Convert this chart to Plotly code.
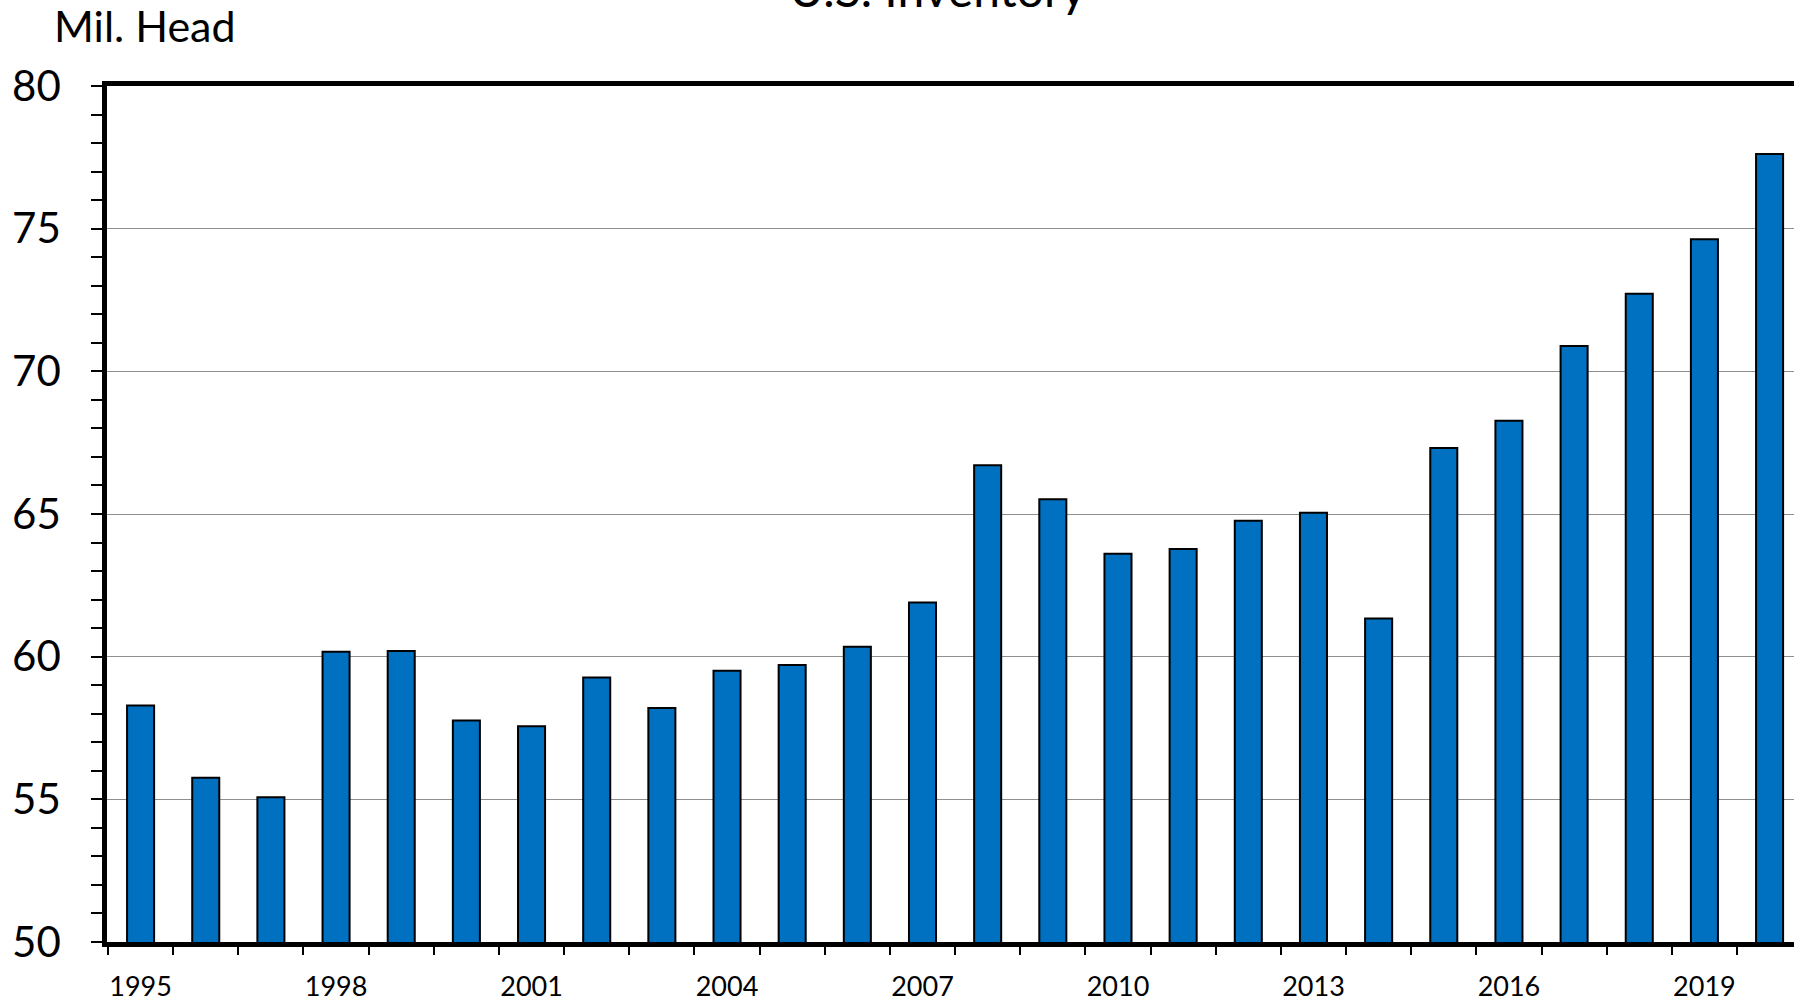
import plotly.graph_objects as go

years = list(range(1995, 2021))
inventory = [58.29, 55.76, 55.07, 60.17, 60.20, 57.76, 57.56, 59.27, 58.20, 59.51,
             59.71, 60.35, 61.90, 66.71, 65.52, 63.61, 63.77, 64.76, 65.04, 61.34,
             67.31, 68.27, 70.89, 72.72, 74.63, 77.62]
tick_years = [1995, 1998, 2001, 2004, 2007, 2010, 2013, 2016, 2019]
title_text = "U.S. Inventory"
unit_text = "Mil. Head"

W, H = 1794, 1002
L, T, B, R = 107, 86, 54, 0
CAT_PX = 65.16
PW = W - L - R
PH = H - T - B

fig = go.Figure()
fig.add_trace(go.Bar(
    x=years, y=inventory,
    marker=dict(color="#0070C0", line=dict(color="black", width=2)),
    width=0.415,
))

FONT = "Lato"
fig.update_layout(
    width=W, height=H,
    margin=dict(l=L, r=R, t=T, b=B, pad=0),
    paper_bgcolor="white", plot_bgcolor="white",
    showlegend=False,
    font=dict(family=FONT, color="black"),
    xaxis=dict(
        range=[1994.5 - 1 / CAT_PX, 1994.5 + (PW - 1) / CAT_PX],
        tickvals=tick_years,
        ticktext=[str(y) for y in tick_years],
        ticks="",
        tickfont=dict(size=27, family=FONT, color="black"),
        ticklabelstandoff=17,
        showline=True, linecolor="black", linewidth=4.5, mirror=True,
        showgrid=False, zeroline=False,
        minor=dict(tick0=1994.5, dtick=1, ticks="outside", ticklen=8,
                   tickwidth=2, tickcolor="black", showgrid=False),
    ),
    yaxis=dict(
        range=[50, 80],
        tick0=50, dtick=5,
        ticks="outside", ticklen=11, tickwidth=2, tickcolor="black",
        tickfont=dict(size=42, family=FONT, color="black"),
        ticklabelstandoff=22,
        showline=True, linecolor="black", linewidth=4.5, mirror=False,
        showgrid=True, gridcolor="#8f8f8f", gridwidth=1.3,
        zeroline=False,
        minor=dict(dtick=1, ticks="outside", ticklen=11, tickwidth=2,
                   tickcolor="black", showgrid=False),
    ),
    annotations=[
        dict(text=title_text, xref="paper", yref="paper",
             x=(937 - L) / PW, y=1 + (T - 19) / PH,
             xanchor="center", yanchor="bottom", showarrow=False,
             font=dict(size=48, family=FONT, color="black")),
        dict(text=unit_text, xref="paper", yref="paper",
             x=(52 - L) / PW, y=1 + (T - 53) / PH,
             xanchor="left", yanchor="bottom", showarrow=False,
             font=dict(size=43, family=FONT, color="black")),
    ],
)

fig.write_html("out.html", config={"displayModeBar": False},
               post_script="document.body.style.margin='0';document.body.style.overflow='hidden';")
